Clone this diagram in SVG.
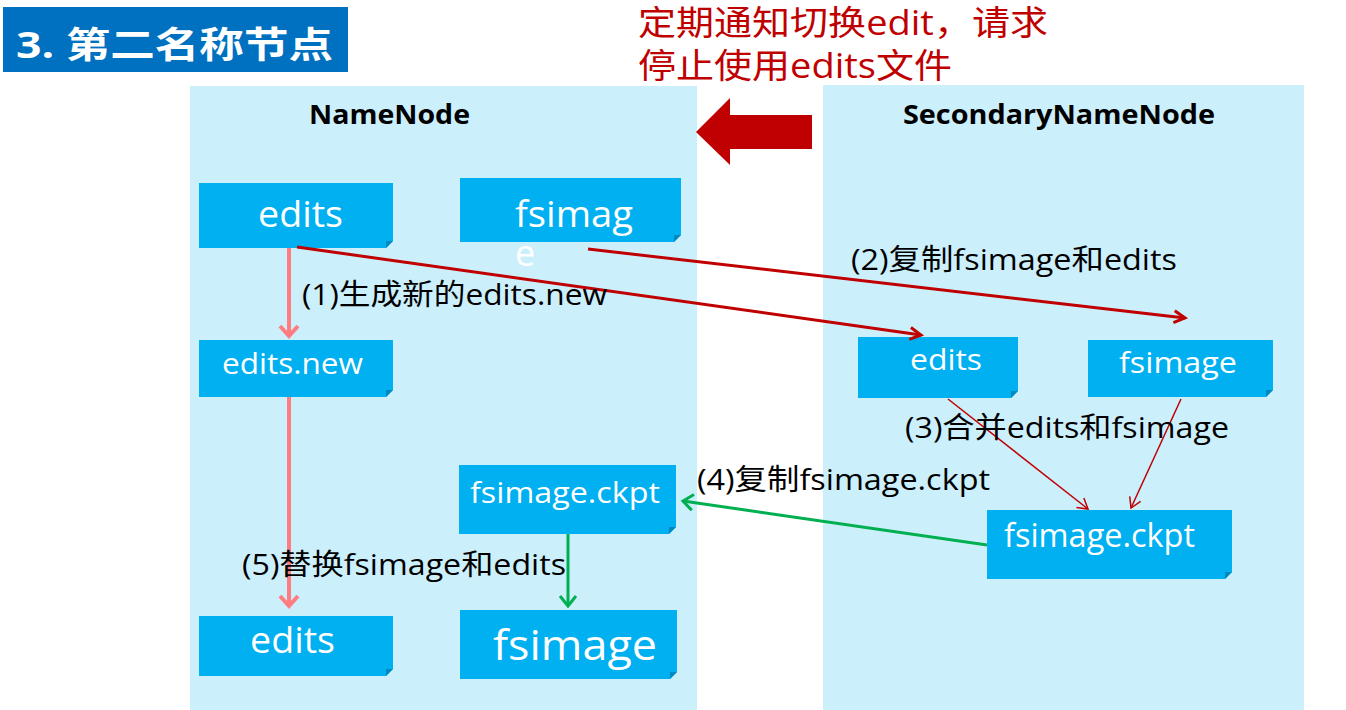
<svg xmlns="http://www.w3.org/2000/svg" width="1346" height="710" viewBox="0 0 1346 710">
<style>
.panel{fill:#CCEFFC}
.box{fill:#00B0F0}
.fold{fill:#0088C0}
.bt{fill:#FFFFFF;font-family:"Open Sans","Noto Sans",sans-serif}
.lbl{fill:#000000;font-family:"Open Sans","Noto Sans CJK SC",sans-serif;font-size:29px}
.hdr{fill:#000000;font-family:"Open Sans","Noto Sans",sans-serif;font-weight:bold;font-size:26px}
.red{fill:#C00000;font-family:"Open Sans","Noto Sans CJK SC",sans-serif;font-size:34px}
</style>
<defs>
<marker id="mPink" markerUnits="userSpaceOnUse" markerWidth="24" markerHeight="24" refX="12" refY="12" orient="auto" viewBox="0 0 24 24"><path d="M2,3 L12,12 L2,21" fill="none" stroke="#FF7C80" stroke-width="4"/></marker>
<marker id="mRed" markerUnits="userSpaceOnUse" markerWidth="20" markerHeight="20" refX="12" refY="10" orient="auto" viewBox="0 0 20 20"><path d="M1,4 L12,10 L1,16" fill="none" stroke="#C00000" stroke-width="3"/></marker>
<marker id="mThin" markerUnits="userSpaceOnUse" markerWidth="16" markerHeight="16" refX="11" refY="8" orient="auto" viewBox="0 0 16 16"><path d="M1,2 L11,8 L1,14" fill="none" stroke="#C00000" stroke-width="1.5"/></marker>
<marker id="mGreen" markerUnits="userSpaceOnUse" markerWidth="22" markerHeight="22" refX="12" refY="11" orient="auto" viewBox="0 0 22 22"><path d="M2,3 L12,11 L2,19" fill="none" stroke="#00B050" stroke-width="3"/></marker>
</defs>
<rect x="0" y="0" width="1346" height="710" fill="#FFFFFF"/>
<g id="title">
<rect x="3" y="7" width="345" height="65" fill="#0070C0"/>
<text x="16" y="58" fill="#FFFFFF" font-family="'Open Sans','Noto Sans CJK SC',sans-serif" font-weight="bold" font-size="36" textLength="317" lengthAdjust="spacingAndGlyphs">3. 第二名称节点</text>
</g>
<g id="note">
<text class="red" x="638" y="35" textLength="410" lengthAdjust="spacingAndGlyphs">定期通知切换edit，请求</text>
<text class="red" x="638" y="78" textLength="314" lengthAdjust="spacingAndGlyphs">停止使用edits文件</text>
</g>
<g id="namenode-panel">
<rect class="panel" x="190" y="86" width="507" height="624"/>
<text class="hdr" x="309" y="124" textLength="161" lengthAdjust="spacingAndGlyphs">NameNode</text>
</g>
<g id="secondary-panel">
<rect class="panel" x="823" y="85" width="481" height="625"/>
<text class="hdr" x="903" y="124" textLength="312" lengthAdjust="spacingAndGlyphs">SecondaryNameNode</text>
</g>
<g id="notify-arrow">
<path d="M812,115 L730,115 L730,98 L696,132 L730,165 L730,149 L812,149 Z" fill="#C00000"/>
</g>
<g id="nn-edits">
<path class="box" d="M199,183 H393 V241 L386,248 H199 Z"/><path class="fold" d="M393,241 L386,248 L386,241 Z"/>
<text class="bt" x="258" y="227" font-size="36" textLength="85" lengthAdjust="spacingAndGlyphs">edits</text>
</g>
<g id="nn-fsimage">
<path class="box" d="M460,178 H681 V235 L674,242 H460 Z"/><path class="fold" d="M681,235 L674,242 L674,235 Z"/>
<text class="bt" x="515" y="227" font-size="36" textLength="118" lengthAdjust="spacingAndGlyphs">fsimag</text>
<text class="bt" x="515" y="266" font-size="36">e</text>
</g>
<g id="nn-editsnew">
<path class="box" d="M199,340 H393 V390 L386,397 H199 Z"/><path class="fold" d="M393,390 L386,397 L386,390 Z"/>
<text class="bt" x="222" y="374" font-size="30" textLength="141" lengthAdjust="spacingAndGlyphs">edits.new</text>
</g>
<g id="nn-ckpt">
<path class="box" d="M459,465 H676 V527 L669,534 H459 Z"/><path class="fold" d="M676,527 L669,534 L669,527 Z"/>
<text class="bt" x="470" y="503" font-size="30" textLength="190" lengthAdjust="spacingAndGlyphs">fsimage.ckpt</text>
</g>
<g id="nn-edits2">
<path class="box" d="M199,616 H393 V669 L386,676 H199 Z"/><path class="fold" d="M393,669 L386,676 L386,669 Z"/>
<text class="bt" x="250" y="653" font-size="36" textLength="85" lengthAdjust="spacingAndGlyphs">edits</text>
</g>
<g id="nn-fsimage2">
<path class="box" d="M460,610 H677 V672 L670,679 H460 Z"/><path class="fold" d="M677,672 L670,679 L670,672 Z"/>
<text class="bt" x="493" y="660" font-size="42" textLength="164" lengthAdjust="spacingAndGlyphs">fsimage</text>
</g>
<g id="snn-edits">
<path class="box" d="M858,337 H1018 V391 L1011,398 H858 Z"/><path class="fold" d="M1018,391 L1011,398 L1011,391 Z"/>
<text class="bt" x="910" y="370" font-size="30" textLength="72" lengthAdjust="spacingAndGlyphs">edits</text>
</g>
<g id="snn-fsimage">
<path class="box" d="M1088,340 H1273 V390 L1266,397 H1088 Z"/><path class="fold" d="M1273,390 L1266,397 L1266,390 Z"/>
<text class="bt" x="1119" y="373" font-size="30" textLength="118" lengthAdjust="spacingAndGlyphs">fsimage</text>
</g>
<g id="snn-ckpt">
<path class="box" d="M987,510 H1232 V572 L1225,579 H987 Z"/><path class="fold" d="M1232,572 L1225,579 L1225,572 Z"/>
<text class="bt" x="1004" y="547" font-size="32" textLength="191" lengthAdjust="spacingAndGlyphs">fsimage.ckpt</text>
</g>
<g id="connectors">
<line x1="289" y1="248" x2="289" y2="336" stroke="#FF7C80" stroke-width="4" marker-end="url(#mPink)"/>
<line x1="289" y1="397" x2="289" y2="606" stroke="#FF7C80" stroke-width="4" marker-end="url(#mPink)"/>
<line x1="297" y1="247" x2="921" y2="335" stroke="#C00000" stroke-width="3" marker-end="url(#mRed)"/>
<line x1="588" y1="249" x2="1185" y2="318" stroke="#C00000" stroke-width="3" marker-end="url(#mRed)"/>
<line x1="948" y1="399" x2="1088" y2="509" stroke="#C00000" stroke-width="1.5" marker-end="url(#mThin)"/>
<line x1="1181" y1="399" x2="1131" y2="508" stroke="#C00000" stroke-width="1.5" marker-end="url(#mThin)"/>
<line x1="987" y1="545" x2="683" y2="501" stroke="#00B050" stroke-width="3" marker-end="url(#mGreen)"/>
<line x1="568" y1="534" x2="568" y2="606" stroke="#00B050" stroke-width="3" marker-end="url(#mGreen)"/>
</g>
<g id="labels">
<text class="lbl" x="302" y="305" textLength="305" lengthAdjust="spacingAndGlyphs">(1)生成新的edits.new</text>
<text class="lbl" x="851" y="270" textLength="326" lengthAdjust="spacingAndGlyphs">(2)复制fsimage和edits</text>
<text class="lbl" x="905" y="438" textLength="324" lengthAdjust="spacingAndGlyphs">(3)合并edits和fsimage</text>
<text class="lbl" x="697" y="490" textLength="293" lengthAdjust="spacingAndGlyphs">(4)复制fsimage.ckpt</text>
<text class="lbl" x="242" y="575" textLength="324" lengthAdjust="spacingAndGlyphs">(5)替换fsimage和edits</text>
</g>
</svg>
